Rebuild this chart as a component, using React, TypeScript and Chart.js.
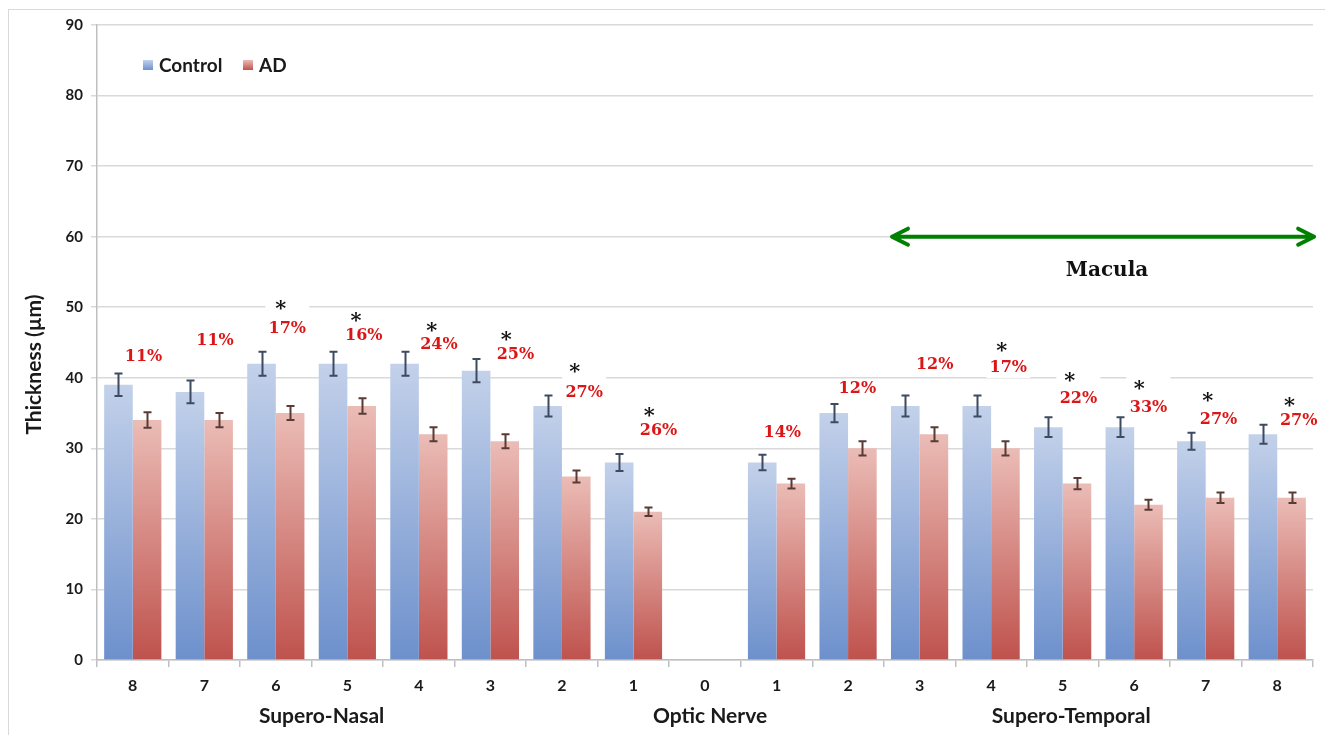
import React, { useEffect, useRef } from "react";
import { Chart, registerables } from "chart.js";

Chart.register(...registerables);

// Eccentricity positions along the supero-nasal / supero-temporal meridian
const categories = ["8", "7", "6", "5", "4", "3", "2", "1", "0", "1", "2", "3", "4", "5", "6", "7", "8"];

// Mean retinal thickness (µm)
const controlMeans = [39, 38, 42, 42, 42, 41, 36, 28, null, 28, 35, 36, 36, 33, 33, 31, 32];
const adMeans = [34, 34, 35, 36, 32, 31, 26, 21, null, 25, 30, 32, 30, 25, 22, 23, 23];

// Standard error of the mean (µm)
const controlErr = [1.6, 1.6, 1.7, 1.7, 1.7, 1.65, 1.5, 1.2, null, 1.1, 1.3, 1.5, 1.5, 1.4, 1.4, 1.2, 1.35];
const adErr = [1.1, 1.0, 1.0, 1.1, 1.0, 1.0, 0.85, 0.6, null, 0.7, 1.0, 1.0, 1.0, 0.8, 0.7, 0.75, 0.75];

// Percentage thinning in AD and significance flags
const reductionLabels = ["11%", "11%", "17%", "16%", "24%", "25%", "27%", "26%", "", "14%", "12%", "12%", "17%", "22%", "33%", "27%", "27%"];
const significant = [false, false, true, true, true, true, true, true, false, false, false, false, true, true, true, true, true];

// Annotation anchors: label heights (µm) and horizontal shifts (in categories)
const labelLevels = [42.9, 45.3, 47.0, 46.0, 44.6, 43.2, 37.8, 32.5, 0, 32.2, 38.4, 41.9, 41.4, 37.0, 35.7, 34.1, 33.9];
const starLevels = [0, 0, 50.2, 48.5, 47.1, 45.8, 41.3, 35.1, 0, 0, 0, 0, 44.3, 40.1, 38.9, 37.2, 36.5];
const labelShift = [0.15, 0.15, 0.16, 0.23, 0.28, 0.35, 0.31, 0.35, 0, 0.08, 0.13, 0.21, 0.24, 0.22, 0.2, 0.18, 0.3];
const starShift = [0, 0, 0.07, 0.12, 0.18, 0.22, 0.18, 0.22, 0, 0, 0, 0, 0.15, 0.1, 0.07, 0.03, 0.17];

// Region labels under the axis (position in category index units)
const regionNames = ["Supero-Nasal", "Optic Nerve", "Supero-Temporal"];
const regionCenters = [2.64, 8.07, 13.12];

// Macula span (category index units) at 60 µm
const maculaStart = 10.6;
const maculaEnd = 16.53;
const maculaLevel = 60;
const maculaTextIndex = 13.62;
const maculaTextLevel = 55.1;

const SANS = "Lato, 'Open Sans', 'Liberation Sans', sans-serif";
const SERIF = "'DejaVu Serif', 'Liberation Serif', serif";

const CONTROL_TOP = "#c3d1ea";
const CONTROL_BOTTOM = "#6d90cc";
const AD_TOP = "#ebbcb6";
const AD_BOTTOM = "#bf524d";

function barGradient(top: string, bottom: string) {
  return (c: any) => {
    const chart = c.chart;
    const scales = chart.scales;
    if (!chart.chartArea || c.type !== "data" || c.raw == null || !scales.y) return bottom;
    const yTop = scales.y.getPixelForValue(c.raw);
    const yBot = scales.y.getPixelForValue(0);
    const g = chart.ctx.createLinearGradient(0, yTop, 0, yBot);
    g.addColorStop(0, top);
    g.addColorStop(1, bottom);
    return g;
  };
}

const annotations = {
  id: "thicknessAnnotations",
  beforeDraw(chart: any) {
    const ctx = chart.ctx;
    ctx.save();
    ctx.fillStyle = "#ffffff";
    ctx.fillRect(0, 0, chart.width, chart.height);
    ctx.strokeStyle = "#d9d9d9";
    ctx.lineWidth = 1;
    ctx.strokeRect(8.5, 9.5, chart.width + 20, chart.height + 20);
    ctx.restore();
  },
  beforeDatasetsDraw(chart: any) {
    // white boxes behind the text, interrupting gridlines like floating text boxes
    const ctx = chart.ctx;
    const x = chart.scales.x;
    const y = chart.scales.y;
    ctx.save();
    ctx.fillStyle = "#ffffff";
    reductionLabels.forEach((t, i) => {
      if (!t) return;
      const cx = x.getPixelForValue(i + labelShift[i]);
      const cy = y.getPixelForValue(labelLevels[i]);
      let top = cy - 10;
      if (significant[i]) top = y.getPixelForValue(starLevels[i]) - 9;
      ctx.fillRect(cx - 22, top, 44, cy + 10 - top);
    });
    ctx.restore();
  },
  afterDatasetsDraw(chart: any) {
    const ctx = chart.ctx;
    const x = chart.scales.x;
    const y = chart.scales.y;
    const area = chart.chartArea;
    ctx.save();

    // error bars
    const errSets = [controlErr, adErr];
    const errColors = ["#3c4b60", "#5a3a35"];
    chart.data.datasets.forEach((ds: any, di: number) => {
      const meta = chart.getDatasetMeta(di);
      ctx.strokeStyle = errColors[di];
      ctx.lineWidth = 2;
      meta.data.forEach((bar: any, i: number) => {
        const v = ds.data[i];
        const e = errSets[di][i];
        if (v == null || e == null) return;
        const bx = Math.round(bar.x) + 0.5;
        const hi = y.getPixelForValue(v + e);
        const lo = y.getPixelForValue(v - e);
        ctx.beginPath();
        ctx.moveTo(bx, hi);
        ctx.lineTo(bx, lo);
        ctx.moveTo(bx - 4, hi);
        ctx.lineTo(bx + 4, hi);
        ctx.moveTo(bx - 4, lo);
        ctx.lineTo(bx + 4, lo);
        ctx.stroke();
      });
    });

    // percentage labels and significance stars
    ctx.textAlign = "center";
    ctx.textBaseline = "middle";
    reductionLabels.forEach((t, i) => {
      if (!t) return;
      ctx.fillStyle = "#dc1616";
      ctx.font = `bold 16px ${SERIF}`;
      ctx.fillText(t, x.getPixelForValue(i + labelShift[i]), y.getPixelForValue(labelLevels[i]));
      if (significant[i]) {
        ctx.fillStyle = "#111111";
        ctx.font = `bold 21px ${SERIF}`;
        ctx.fillText("*", x.getPixelForValue(i + starShift[i]), y.getPixelForValue(starLevels[i]) + 4);
      }
    });

    // macula double arrow
    const ax0 = x.getPixelForValue(maculaStart);
    const ax1 = x.getPixelForValue(maculaEnd);
    const ay = y.getPixelForValue(maculaLevel);
    ctx.strokeStyle = "#008000";
    ctx.lineWidth = 4;
    ctx.lineCap = "round";
    ctx.lineJoin = "round";
    ctx.beginPath();
    ctx.moveTo(ax0 + 2, ay);
    ctx.lineTo(ax1 - 2, ay);
    ctx.moveTo(ax0 + 17, ay - 8);
    ctx.lineTo(ax0 + 1, ay);
    ctx.lineTo(ax0 + 17, ay + 8);
    ctx.moveTo(ax1 - 17, ay - 8);
    ctx.lineTo(ax1 - 1, ay);
    ctx.lineTo(ax1 - 17, ay + 8);
    ctx.stroke();
    ctx.fillStyle = "#111111";
    ctx.font = `bold 20px ${SERIF}`;
    ctx.fillText("Macula", x.getPixelForValue(maculaTextIndex), y.getPixelForValue(maculaTextLevel));

    // legend inside the plot
    const lx = area.left + 46;
    const ly = area.top + 40;
    const swatches = [
      { label: "Control", top: CONTROL_TOP, bottom: CONTROL_BOTTOM },
      { label: "AD", top: AD_TOP, bottom: AD_BOTTOM },
    ];
    let cx = lx;
    ctx.textAlign = "left";
    ctx.font = `bold 19px ${SANS}`;
    swatches.forEach((s) => {
      const g = ctx.createLinearGradient(0, ly - 5, 0, ly + 5);
      g.addColorStop(0, s.top);
      g.addColorStop(1, s.bottom);
      ctx.fillStyle = g;
      ctx.fillRect(cx, ly - 5, 10, 10);
      ctx.fillStyle = "#1a1a1a";
      ctx.fillText(s.label, cx + 16, ly + 1);
      cx += 100;
    });

    ctx.restore();
  },
  afterDraw(chart: any) {
    const ctx = chart.ctx;
    const x = chart.scales.x;
    const area = chart.chartArea;
    ctx.save();
    ctx.fillStyle = "#1a1a1a";
    ctx.textAlign = "center";
    ctx.textBaseline = "middle";
    ctx.font = `bold 21px ${SANS}`;
    regionNames.forEach((name, i) => {
      ctx.fillText(name, x.getPixelForValue(regionCenters[i]), area.bottom + 56);
    });

    // y axis title
    ctx.translate(34, (area.top + area.bottom) / 2 + 22);
    ctx.rotate(-Math.PI / 2);
    ctx.font = `bold 21px ${SANS}`;
    ctx.fillText("Thickness (µm)", 0, 0);
    ctx.restore();
  },
};

export default function App() {
  const canvasRef = useRef<HTMLCanvasElement | null>(null);

  useEffect(() => {
    const canvas = canvasRef.current;
    if (!canvas) return;
    const chart = new Chart(canvas, {
      type: "bar",
      data: {
        labels: categories,
        datasets: [
          {
            label: "Control",
            data: controlMeans as any,
            backgroundColor: barGradient(CONTROL_TOP, CONTROL_BOTTOM),
            borderWidth: 0,
            categoryPercentage: 0.8,
            barPercentage: 1.0,
          },
          {
            label: "AD",
            data: adMeans as any,
            backgroundColor: barGradient(AD_TOP, AD_BOTTOM),
            borderWidth: 0,
            categoryPercentage: 0.8,
            barPercentage: 1.0,
          },
        ],
      },
      options: {
        animation: false,
        responsive: false,
        maintainAspectRatio: false,
        layout: { padding: { left: 0, right: 12, top: 25, bottom: 0 } },
        plugins: {
          legend: { display: false },
          tooltip: { enabled: false },
        },
        scales: {
          x: {
            offset: true,
            grid: {
              display: true,
              offset: true,
              drawOnChartArea: false,
              drawTicks: true,
              tickLength: 7,
              color: "#bfbfbf",
              lineWidth: 1.5,
            },
            border: { display: true, color: "#bfbfbf", width: 1.5 },
            ticks: {
              color: "#1a1a1a",
              font: { family: SANS, size: 16, weight: "bold" },
              padding: 9,
              maxRotation: 0,
              autoSkip: false,
            },
            afterFit: (s: any) => {
              s.height = 75;
            },
          },
          y: {
            min: 0,
            max: 90,
            ticks: {
              stepSize: 10,
              color: "#1a1a1a",
              font: { family: SANS, size: 15, weight: "bold" },
              padding: 8,
            },
            grid: {
              color: "#d9d9d9",
              lineWidth: 1.5,
              tickLength: 6,
            },
            border: { display: true, color: "#bfbfbf", width: 1.5 },
            afterFit: (s: any) => {
              s.width = 97;
            },
          },
        },
      },
      plugins: [annotations],
    } as any);
    return () => chart.destroy();
  }, []);

  return (
    <div style={{ position: "fixed", left: 0, top: 0, width: 1325, height: 735, background: "#ffffff" }}>
      <canvas ref={canvasRef} width={1325} height={735} style={{ display: "block", width: 1325, height: 735 }} />
    </div>
  );
}
